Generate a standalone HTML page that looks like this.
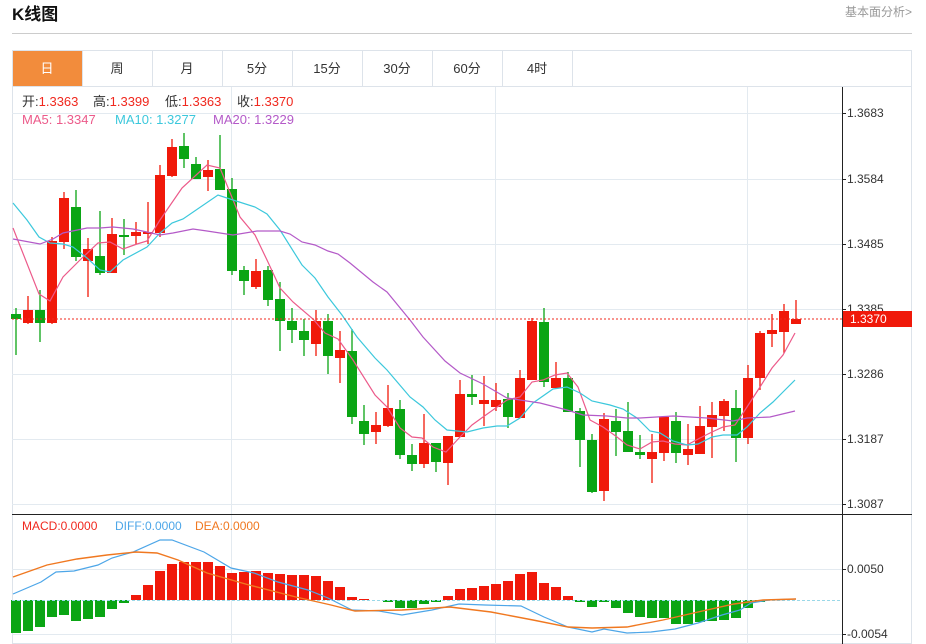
<!DOCTYPE html>
<html><head><meta charset="utf-8"><style>
html,body{margin:0;padding:0;background:#fff;width:926px;height:644px;overflow:hidden}
svg{display:block;font-family:"Liberation Sans","Noto Sans CJK SC",sans-serif}
</style></head><body>
<svg id="s" width="926" height="644" xmlns="http://www.w3.org/2000/svg">
<text x="12" y="20" font-size="17" font-weight="bold" fill="#111">K线图</text>
<text x="912" y="16" font-size="12" fill="#999" text-anchor="end">基本面分析&gt;</text>
<line x1="12" y1="33.5" x2="912" y2="33.5" stroke="#ccc"/>
<rect x="12.5" y="50.5" width="899" height="593" fill="none" stroke="#dde3ea"/>
<line x1="12" y1="86.5" x2="912" y2="86.5" stroke="#dde3ea"/>
<rect x="13" y="51" width="69" height="35" fill="#f28c3c"/>
<g stroke="#dde3ea"><line x1="82.5" y1="51" x2="82.5" y2="86"/><line x1="152.5" y1="51" x2="152.5" y2="86"/><line x1="222.5" y1="51" x2="222.5" y2="86"/><line x1="292.5" y1="51" x2="292.5" y2="86"/><line x1="362.5" y1="51" x2="362.5" y2="86"/><line x1="432.5" y1="51" x2="432.5" y2="86"/><line x1="502.5" y1="51" x2="502.5" y2="86"/><line x1="572.5" y1="51" x2="572.5" y2="86"/></g>
<g font-size="13" text-anchor="middle" fill="#333"><text x="47" y="73" fill="#fff">日</text><text x="117" y="73">周</text><text x="187" y="73">月</text><text x="257" y="73">5分</text><text x="327" y="73">15分</text><text x="397" y="73">30分</text><text x="467" y="73">60分</text><text x="537" y="73">4时</text></g>
<g id="g"></g>
<g font-size="13">
<text y="106"><tspan x="22" fill="#333">开:</tspan><tspan fill="#f0281e">1.3363</tspan><tspan x="93" fill="#333">高:</tspan><tspan fill="#f0281e">1.3399</tspan><tspan x="165" fill="#333">低:</tspan><tspan fill="#f0281e">1.3363</tspan><tspan x="237" fill="#333">收:</tspan><tspan fill="#f0281e">1.3370</tspan></text>
<text x="22" y="124" fill="#ec5a8a">MA5: 1.3347</text><text x="115" y="124" fill="#3cc8dc">MA10: 1.3277</text><text x="213" y="124" fill="#b45ac8">MA20: 1.3229</text>
</g>
<g font-size="12">
<text x="22" y="530" fill="#f0281e">MACD:0.0000</text><text x="115" y="530" fill="#4da6e8">DIFF:0.0000</text><text x="195" y="530" fill="#f07820">DEA:0.0000</text>
</g>
</svg>
<script>
var NS="http://www.w3.org/2000/svg",g=document.getElementById('g');
function el(t,a){var e=document.createElementNS(NS,t);for(var k in a)e.setAttribute(k,a[k]);g.appendChild(e);return e;}
[113,179,244,309,374,439,504,569,634].forEach(function(y){el('line',{x1:12,y1:y+.5,x2:842,y2:y+.5,stroke:'#e3eaf0'});});
[231,495,747].forEach(function(x){el('line',{x1:x+.5,y1:87,x2:x+.5,y2:644,stroke:'#e3eaf0'});});
var C=[
['g',314,319,308,355],['r',310,323,296,324],['g',310,323,290,342],['r',241,323,237,324],['r',198,242,192,249],
['g',207,257,190,261],['r',249,261,238,297],['g',256,273,211,275],['r',234,273,218,273],['g',235,237,219,255],
['r',232,236,222,244],['r',232,234,202,244],['r',175,233,165,237],['r',147,176,139,177],['g',146,159,133,168],
['g',164,179,157,179],['r',170,177,160,191],['g',169,190,135,190],['g',189,271,178,275],['g',270,281,266,295],
['r',271,287,259,289],['g',270,300,266,306],['g',299,321,282,351],['g',321,330,308,343],['g',331,340,319,356],
['r',321,344,310,356],['g',321,356,314,374],['r',350,358,331,383],['g',351,417,329,424],['g',421,434,405,445],
['r',425,432,412,444],['r',408,426,385,427],['g',409,455,400,459],['g',455,464,444,471],['r',443,464,414,468],
['g',443,462,443,472],['r',436,463,436,485],['r',394,437,380,437],['g',394,397,375,405],['r',400,404,376,426],
['r',400,407,383,411],['g',399,417,393,428],['r',378,418,370,418],['r',321,380,318,380],['g',322,382,308,387],
['r',378,388,362,388],['g',378,412,372,412],['g',411,440,408,467],['g',440,492,434,493],['r',419,491,413,501],
['g',421,432,409,456],['g',431,452,402,452],['g',452,455,435,459],['r',452,459,434,483],['r',417,453,417,461],
['g',421,453,412,463],['r',449,455,424,465],['r',426,454,406,454],['r',415,427,402,458],['r',401,416,399,431],
['g',408,438,390,462],['r',378,438,365,444],['r',333,378,331,390],['r',330,334,314,347],['r',311,332,304,353],
['r',319,324,300,324]];
C.forEach(function(c,i){var x=16+12*i,col=c[0]=='r'?'#f0190a':'#0aa514';
el('line',{x1:x,y1:c[3],x2:x,y2:c[4],stroke:col,'stroke-width':1.3});
el('rect',{x:x-5,y:c[1],width:10,height:Math.max(2,c[2]-c[1]),fill:col});});
function pl(p,col,w){el('polyline',{points:p,fill:'none',stroke:col,'stroke-width':w||1.2});}
pl("13,228 39,294 50,301 63,277 80,260 98,243 110,242 123,249 137,244 147,241 160,220 182,188 207,165 220,168 240,217 255,235 267,260 280,288 293,302 313,319 325,333 338,339 353,360 375,395 387,407 400,428 412,437 422,438 433,447 446,452 460,437 472,425 483,417 507,400 520,397 532,382 543,380 555,375 567,373 578,387 590,420 603,427 617,437 627,445 640,449 652,442 663,441 675,444 687,445 700,438 712,432 723,427 735,425 747,407 760,387 772,368 783,355 795,333","#ec5a8a");
pl("13,203 27,220 39,237 50,243 63,244 73,247 87,258 100,270 110,272 123,260 147,247 160,233 172,223 183,219 218,195 233,200 255,207 267,214 280,230 302,265 315,278 328,297 342,315 357,337 375,358 387,370 410,397 423,407 435,420 447,430 467,432 483,428 497,426 507,426 520,418 533,403 553,389 567,387 580,393 592,401 610,405 623,409 637,418 650,431 660,433 673,441 687,445 698,444 712,437 723,435 737,435 747,427 760,413 773,402 783,392 795,380","#3cc8dc");
pl("13,239 40,244 53,239 63,233 87,228 100,228 113,227 133,229 147,232 160,235 173,233 193,229 207,231 233,235 257,231 280,231 290,234 302,242 315,245 328,251 338,254 350,263 373,282 387,292 410,320 423,337 445,361 460,373 483,384 507,398 520,400 540,403 567,410 583,415 607,416 627,418 640,418 673,416 707,418 733,421 747,418 770,417 795,411","#b45ac8");
var H=[633,631,627,617,615,621,619,617,609,603,595,585,571,564,562,562,562,566,573,572,571,573,574,575,575,576,581,587,597,599,600,602,608,608,604,602,596,589,588,586,584,581,574,572,583,587,596,602,607,602,608,613,617,618,618,624,624,622,621,620,618,608,602,600,600,600];
H.forEach(function(h,i){var x=16+12*i;if(Math.abs(h-600)<1)return;var red=h<600;
el('rect',{x:x-5,y:Math.min(h,600),width:10,height:Math.abs(h-600),fill:red?'#f0190a':'#0aa514'});});
el('line',{x1:12,y1:600.5,x2:842,y2:600.5,stroke:'#9ad8e8','stroke-dasharray':'3,2'});
pl("13,594 41,582 56,572 74,571 98,565 112,558 133,552 160,540 172,540 204,552 231,568 254,573 278,582 308,590 328,598 352,610 379,611 402,615 432,610 459,604 485,605 521,606 544,617 568,627 592,632 604,629 627,633 651,632 675,629 698,623 722,615 740,610 751,603 769,600 796,599","#4da6e8");
pl("13,577 47,565 77,559 107,555 136,552 157,553 178,560 207,573 249,585 296,597 331,605 355,611 402,610 450,607 491,612 533,620 568,627 592,628 627,627 663,620 698,612 734,604 763,600 796,599","#f07820",1.4);
el('line',{x1:12,y1:319,x2:842,y2:319,stroke:'#f0281e','stroke-dasharray':'2,2'});
el('line',{x1:12,y1:514.5,x2:912,y2:514.5,stroke:'#222'});
el('line',{x1:842.5,y1:87,x2:842.5,y2:644,stroke:'#222'});
[[113,'1.3683'],[179,'1.3584'],[244,'1.3485'],[309,'1.3385'],[374,'1.3286'],[439,'1.3187'],[504,'1.3087'],[569,'0.0050'],[634,'-0.0054']].forEach(function(t){
el('line',{x1:842,y1:t[0]+.5,x2:846,y2:t[0]+.5,stroke:'#222'});
var e=el('text',{x:847,y:t[0]+4,'font-size':12,fill:'#333'});e.textContent=t[1];});
el('rect',{x:843,y:311,width:69,height:16,fill:'#f0190a'});
var e=el('text',{x:850,y:323,'font-size':12,fill:'#fff'});e.textContent='1.3370';
</script>
</body></html>
